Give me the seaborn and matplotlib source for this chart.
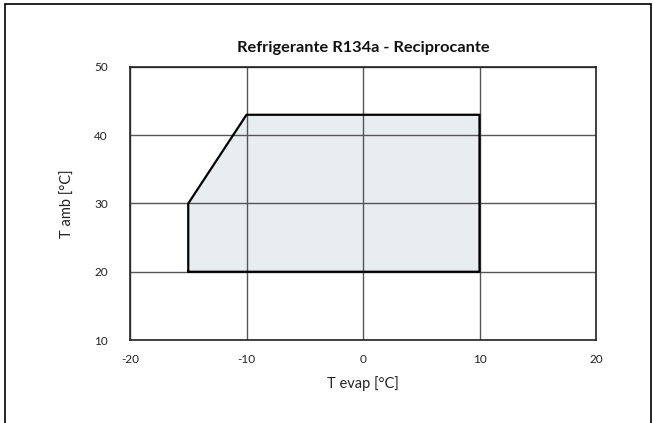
import matplotlib
matplotlib.use("Agg")
import matplotlib.pyplot as plt
import seaborn as sns
import pandas as pd
from matplotlib.patches import Rectangle

# Envelope vertices
t_evap = [-15, -15, -10, 10, 10, -15]
t_amb = [20, 30, 43, 43, 20, 20]
x_ticks = [-20, -10, 0, 10, 20]
y_ticks = [10, 20, 30, 40, 50]
title = "Refrigerante R134a - Reciprocante"

sns.set_theme(style="white")
plt.rcParams['font.family'] = ['Lato', 'DejaVu Sans']

df = pd.DataFrame({"x": t_evap, "y": t_amb})

fig = plt.figure(figsize=(6.53, 4.23), dpi=100)
ax = fig.add_axes([130/653, 1-340/423, (596-130)/653, (340-67)/423])

ax.fill(df["x"], df["y"], color="#e8edf0", zorder=1)
for v in x_ticks:
    ax.axvline(v, color="#555555", lw=1.0, zorder=2)
for v in y_ticks:
    ax.axhline(v, color="#555555", lw=1.0, zorder=2)
sns.lineplot(data=df, x="x", y="y", sort=False, estimator=None, color="black",
             lw=1.6, ax=ax, zorder=3)

ax.set_xlim(-20, 20)
ax.set_ylim(10, 50)
ax.set_xticks(x_ticks)
ax.set_yticks(y_ticks)
ax.set_xticklabels([str(v) for v in x_ticks], fontsize=8.5, color="#222222")
ax.set_yticklabels([str(v) for v in y_ticks], fontsize=8.5, color="#222222")
ax.tick_params(axis="y", length=0, pad=16)
ax.tick_params(axis="x", length=0, pad=10)
for s in ax.spines.values():
    s.set_color("#222222")
    s.set_linewidth(1.2)
ax.set_xlabel("T evap [°C]", fontsize=10.5, color="#222222", labelpad=8)
ax.set_ylabel("T amb [°C]", fontsize=10.5, color="#222222", labelpad=14)
ax.set_title(title, fontsize=11.8, fontweight="bold", color="#111111", pad=11)

fig.patches.append(Rectangle((5/653, -0.1), (651-5)/653, 1.1 - 4/423, transform=fig.transFigure,
                             fill=False, edgecolor="black", lw=1.2))
fig.savefig("out.png", dpi=100)
